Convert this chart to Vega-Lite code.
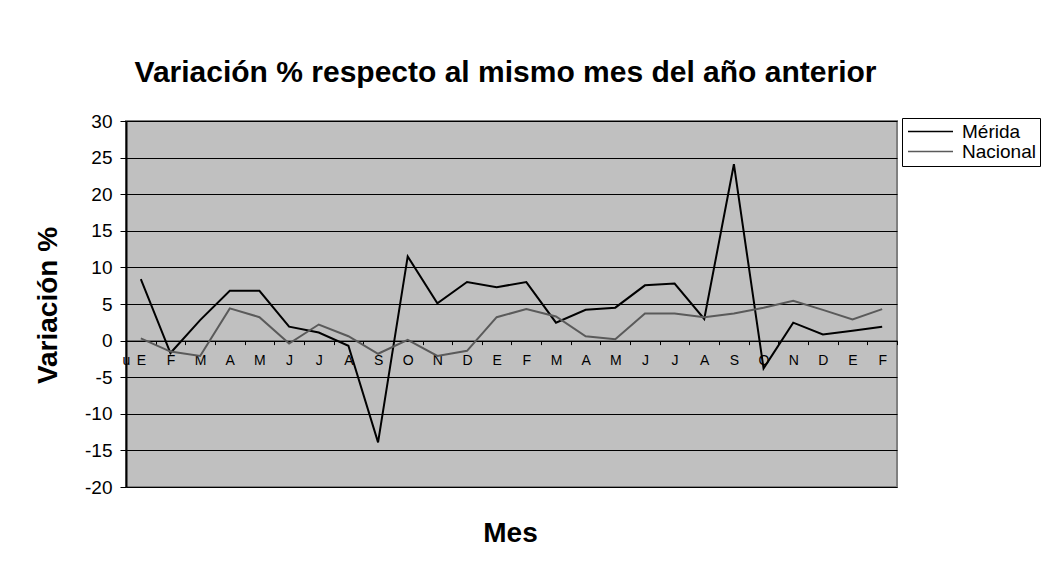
{
  "$schema": "https://vega.github.io/schema/vega-lite/v6.json",
  "autosize": "none",
  "width": 771,
  "height": 366,
  "padding": {"left": 126, "top": 121, "right": 144, "bottom": 86},
  "background": "white",
  "title": {
    "text": "Variación % respecto al mismo mes del año anterior",
    "font": "Liberation Sans",
    "fontSize": 30,
    "fontWeight": "bold",
    "color": "black",
    "anchor": "middle",
    "frame": "group",
    "baseline": "alphabetic",
    "offset": 0,
    "dx": -6
  },
  "config": {
    "view": {"fill": "#C0C0C0", "stroke": "#808080", "strokeWidth": 2},
    "font": "Liberation Sans"
  },
  "data": {
    "values": [
      {"mes": "E01", "serie": "Mérida", "valor": 8.4},
      {"mes": "F02", "serie": "Mérida", "valor": -1.7},
      {"mes": "M03", "serie": "Mérida", "valor": 2.8},
      {"mes": "A04", "serie": "Mérida", "valor": 6.8},
      {"mes": "M05", "serie": "Mérida", "valor": 6.8},
      {"mes": "J06", "serie": "Mérida", "valor": 1.9},
      {"mes": "J07", "serie": "Mérida", "valor": 1.1},
      {"mes": "A08", "serie": "Mérida", "valor": -0.7},
      {"mes": "S09", "serie": "Mérida", "valor": -13.9},
      {"mes": "O10", "serie": "Mérida", "valor": 11.5},
      {"mes": "N11", "serie": "Mérida", "valor": 5.1},
      {"mes": "D12", "serie": "Mérida", "valor": 8.0},
      {"mes": "E13", "serie": "Mérida", "valor": 7.3},
      {"mes": "F14", "serie": "Mérida", "valor": 8.0},
      {"mes": "M15", "serie": "Mérida", "valor": 2.45},
      {"mes": "A16", "serie": "Mérida", "valor": 4.2},
      {"mes": "M17", "serie": "Mérida", "valor": 4.5},
      {"mes": "J18", "serie": "Mérida", "valor": 7.55},
      {"mes": "J19", "serie": "Mérida", "valor": 7.8},
      {"mes": "A20", "serie": "Mérida", "valor": 2.95},
      {"mes": "S21", "serie": "Mérida", "valor": 24.1},
      {"mes": "O22", "serie": "Mérida", "valor": -3.8},
      {"mes": "N23", "serie": "Mérida", "valor": 2.45},
      {"mes": "D24", "serie": "Mérida", "valor": 0.85},
      {"mes": "E25", "serie": "Mérida", "valor": 1.35},
      {"mes": "F26", "serie": "Mérida", "valor": 1.9},
      {"mes": "E01", "serie": "Nacional", "valor": 0.3},
      {"mes": "F02", "serie": "Nacional", "valor": -1.5},
      {"mes": "M03", "serie": "Nacional", "valor": -2.1},
      {"mes": "A04", "serie": "Nacional", "valor": 4.4},
      {"mes": "M05", "serie": "Nacional", "valor": 3.2},
      {"mes": "J06", "serie": "Nacional", "valor": -0.4},
      {"mes": "J07", "serie": "Nacional", "valor": 2.2},
      {"mes": "A08", "serie": "Nacional", "valor": 0.6},
      {"mes": "S09", "serie": "Nacional", "valor": -1.8},
      {"mes": "O10", "serie": "Nacional", "valor": 0.1},
      {"mes": "N11", "serie": "Nacional", "valor": -2.1},
      {"mes": "D12", "serie": "Nacional", "valor": -1.4},
      {"mes": "E13", "serie": "Nacional", "valor": 3.2},
      {"mes": "F14", "serie": "Nacional", "valor": 4.3},
      {"mes": "M15", "serie": "Nacional", "valor": 3.3},
      {"mes": "A16", "serie": "Nacional", "valor": 0.6},
      {"mes": "M17", "serie": "Nacional", "valor": 0.2},
      {"mes": "J18", "serie": "Nacional", "valor": 3.7},
      {"mes": "J19", "serie": "Nacional", "valor": 3.7},
      {"mes": "A20", "serie": "Nacional", "valor": 3.2},
      {"mes": "S21", "serie": "Nacional", "valor": 3.7},
      {"mes": "O22", "serie": "Nacional", "valor": 4.5},
      {"mes": "N23", "serie": "Nacional", "valor": 5.45},
      {"mes": "D24", "serie": "Nacional", "valor": 4.2},
      {"mes": "E25", "serie": "Nacional", "valor": 2.9},
      {"mes": "F26", "serie": "Nacional", "valor": 4.3}
    ]
  },
  "mark": {"type": "line", "strokeWidth": 2},
  "encoding": {
    "x": {
      "field": "mes",
      "type": "ordinal",
      "sort": null,
      "scale": {"paddingInner": 0, "paddingOuter": 0},
      "axis": {
        "title": "Mes",
        "titleFont": "Liberation Sans",
        "titleFontSize": 28,
        "titleFontWeight": "bold",
        "titleColor": "black",
        "titleX": 384,
        "titleY": 193,
        "titleBaseline": "middle",
        "offset": -146.4,
        "labelExpr": "substring(datum.value, 0, 1)",
        "labelAngle": 0,
        "labelFont": "Liberation Sans",
        "labelFontSize": 14,
        "labelColor": "black",
        "labelPadding": 9,
        "tickBand": "extent",
        "tickColor": "black",
        "tickSize": 4,
        "domainColor": "black",
        "domainWidth": 1,
        "grid": false
      }
    },
    "y": {
      "field": "valor",
      "type": "quantitative",
      "scale": {"domain": [-20, 30], "nice": false, "zero": false},
      "axis": {
        "title": "Variación %",
        "titleFont": "Liberation Sans",
        "titleFontSize": 28,
        "titleFontWeight": "bold",
        "titleColor": "black",
        "titleX": -78,
        "titleY": 184,
        "titleAlign": "center",
        "titleBaseline": "middle",
        "values": [-20, -15, -10, -5, 0, 5, 10, 15, 20, 25, 30],
        "labelExpr": "'' + datum.value",
        "labelFont": "Liberation Sans",
        "labelFontSize": 19,
        "labelColor": "black",
        "labelPadding": 8,
        "tickColor": "black",
        "tickSize": 6,
        "domainColor": "black",
        "domainWidth": 2,
        "grid": true,
        "gridColor": "black",
        "gridOpacity": 1,
        "gridWidth": 1
      }
    },
    "color": {
      "field": "serie",
      "type": "nominal",
      "scale": {"domain": ["Mérida", "Nacional"], "range": ["#000000", "#5a5a5a"]},
      "legend": {
        "title": null,
        "orient": "none",
        "legendX": 776,
        "legendY": -3,
        "strokeColor": "black",
        "fillColor": "white",
        "padding": 4,
        "symbolType": "M-1,0H5",
        "symbolSize": 225,
        "symbolStrokeWidth": 1.5,
        "labelFont": "Liberation Sans",
        "labelFontSize": 19,
        "labelColor": "black",
        "labelOffset": 37,
        "rowPadding": 0
      }
    }
  }
}
